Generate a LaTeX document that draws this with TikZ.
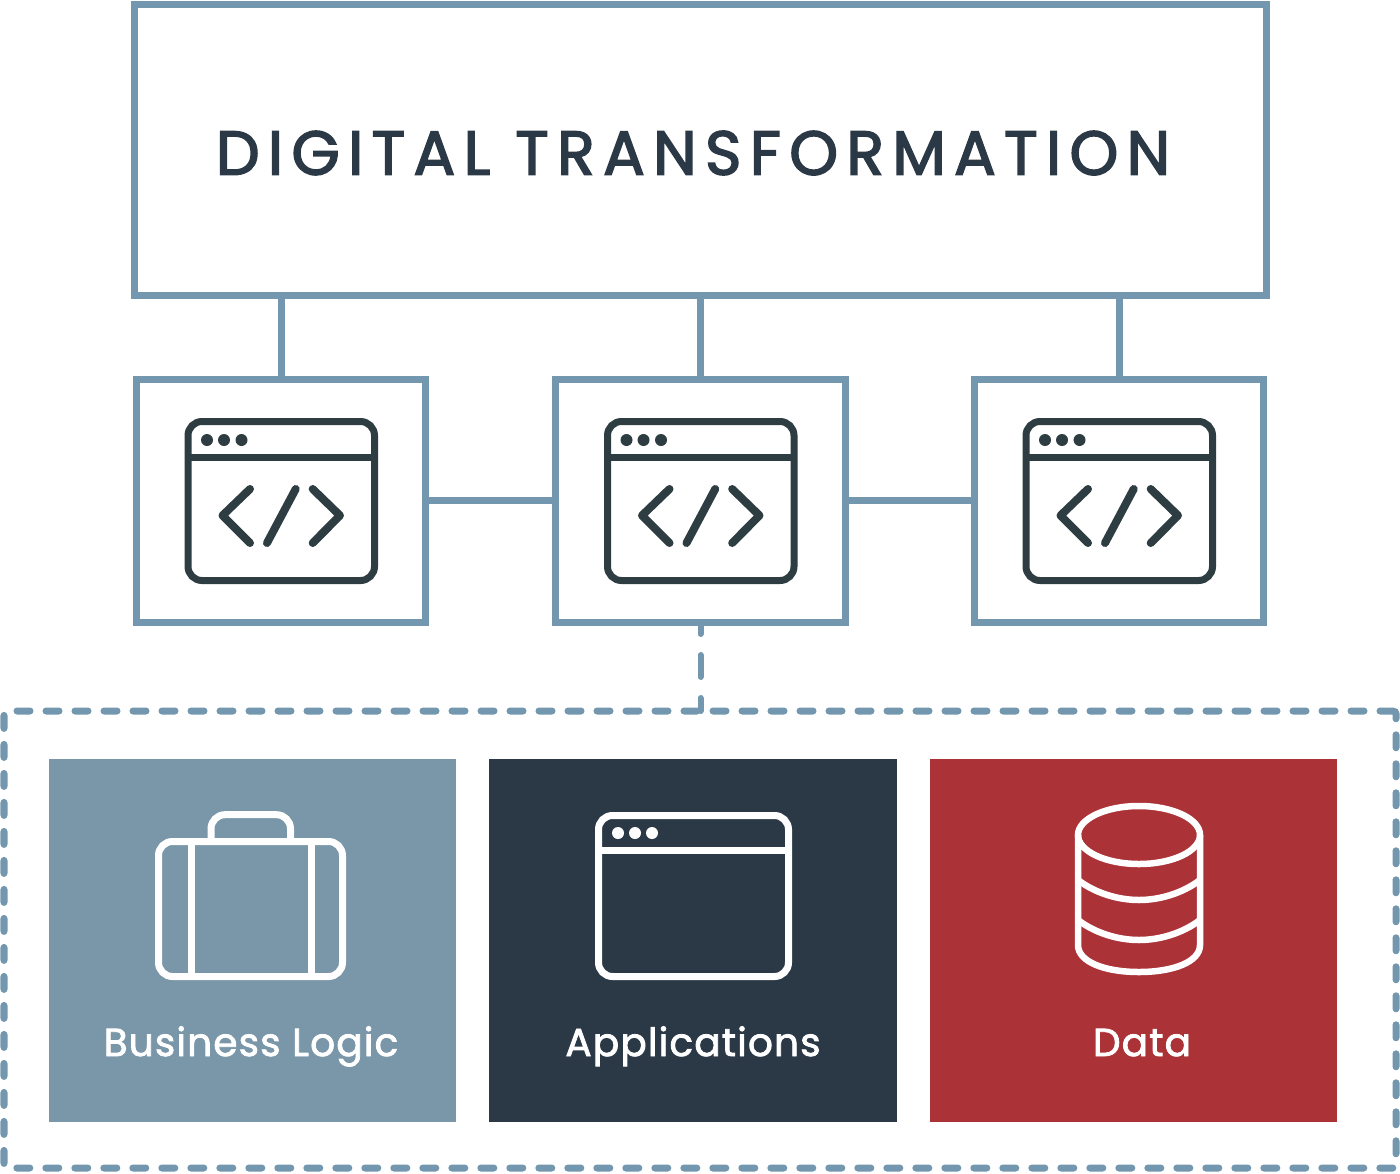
\documentclass[tikz,border=0pt]{standalone}
\usepackage{fontspec}
\setmainfont{Poppins}
\newfontfamily\titlefont[LetterSpace=13.4,FakeBold=2.5]{Poppins}
\newfontfamily\labelfont[LetterSpace=3,FakeBold=2]{Poppins}
\definecolor{frameblue}{HTML}{7397AE}
\definecolor{steelfill}{HTML}{7A96A9}
\definecolor{navyfill}{HTML}{2B3846}
\definecolor{redfill}{HTML}{AB3237}
\definecolor{icondark}{HTML}{2E3D42}
\tikzset{
  framebox/.style={draw=frameblue, line width=7pt, inner sep=0pt, outer sep=0pt},
  codebox/.style={framebox, minimum width=289.5pt, minimum height=243pt},
  fillbox/.style={inner sep=0pt, outer sep=0pt, minimum width=407.5pt, minimum height=363pt},
  link/.style={draw=frameblue, line width=7pt},
  dashlink/.style={draw=frameblue, line width=6pt, line cap=round},
  boxlabel/.style={text=white, font=\labelfont\fontsize{39}{39}\selectfont, anchor=base},
  iconline/.style={line width=7pt, rounded corners=14pt},
  pics/codeicon/.style={code={
    \draw[icondark, iconline] (-93,-79) rectangle (93.5,80);
    \draw[icondark, line width=7pt] (-93,-43.5) -- (93.5,-43.5);
    \foreach \dotx in {-74,-57,-39.5} \fill[icondark] (\dotx,-60.5) circle (6);
    \draw[icondark, line width=8pt, line cap=round, line join=round]
      (-31,-11.5) -- (-58.5,15) -- (-31,42.5)
      (14.7,-11.5) -- (-14,42.5)
      (31.7,-11.5) -- (59,15) -- (31.7,42.5);
  }}
}
\begin{document}
\begin{tikzpicture}[x=1pt, y=-1pt]
  \useasboundingbox (0,0) rectangle (1400,1173);

  \node[framebox, minimum width=1132pt, minimum height=291pt] (title) at (700,149.5) {};
  \node[text=navyfill, font=\titlefont\fontsize{62}{62}\selectfont] (titletext) at (693,153) {DIGITAL TRANSFORMATION};

  \node[codebox] (code1) at (281,500.5) {};
  \node[codebox] (code2) at (700.5,500.5) {};
  \node[codebox] (code3) at (1119,500.5) {};
  \foreach \boxname in {code1,code2,code3}
    \pic at (\boxname.center) {codeicon};

  \draw[link] (title.south -| code1.north) -- (code1.north);
  \draw[link] (title.south -| code2.north) -- (code2.north);
  \draw[link] (title.south -| code3.north) -- (code3.north);
  \draw[link] (code1.east) -- (code2.west);
  \draw[link] (code2.east) -- (code3.west);

  \node[draw=frameblue, line width=7pt, line cap=round, dash pattern=on 13pt off 16pt, rounded corners=3pt,
    inner sep=0pt, outer sep=0pt, minimum width=1392pt, minimum height=457pt] (group) at (700,939.5) {};
  \draw[dashlink, dash pattern=on 22pt off 21pt, dash phase=10pt] (code2.south) -- (code2.south |- group.north);

  \node[fillbox, fill=steelfill] (logic) at (252.5,940.5) {};
  \node[fillbox, fill=navyfill] (apps) at (693,940.5) {};
  \node[fillbox, fill=redfill] (data) at (1133.5,940.5) {};

  \node[boxlabel] (logictext) at (251,1056) {Business Logic};
  \node[boxlabel] (appstext) at (693,1056) {Applications};
  \node[boxlabel] (datatext) at (1142,1056) {Data};

  % briefcase
  \draw[white, iconline] (158.5,841.5) rectangle (342.5,976.5);
  \draw[white, line width=7pt] (191,841.5) -- (191,976.5) (311,841.5) -- (311,976.5);
  \draw[white, iconline] (211,841.5) -- (211,814.7) -- (290.5,814.7) -- (290.5,841.5);

  % window
  \draw[white, iconline] (598.5,815.5) rectangle (788.5,976.5);
  \draw[white, line width=7pt] (598.5,850) -- (788.5,850);
  \foreach \dotx in {618,635,652} \fill[white] (\dotx,833) circle (6);

  % database
  \draw[white, line width=6.5pt] (1139,835) ellipse (61 and 29);
  \draw[white, line width=6.5pt] (1078,835) -- (1078,945)
    .. controls (1078,962) and (1105,972) .. (1139,972)
    .. controls (1173,972) and (1200,962) .. (1200,945) -- (1200,835);
  \draw[white, line width=6.5pt] (1078,880) .. controls (1095,893) and (1118,900) .. (1139,900)
    .. controls (1160,900) and (1183,893) .. (1200,880);
  \draw[white, line width=6.5pt] (1078,920) .. controls (1095,933) and (1118,940) .. (1139,940)
    .. controls (1160,940) and (1183,933) .. (1200,920);
\end{tikzpicture}
\end{document}
